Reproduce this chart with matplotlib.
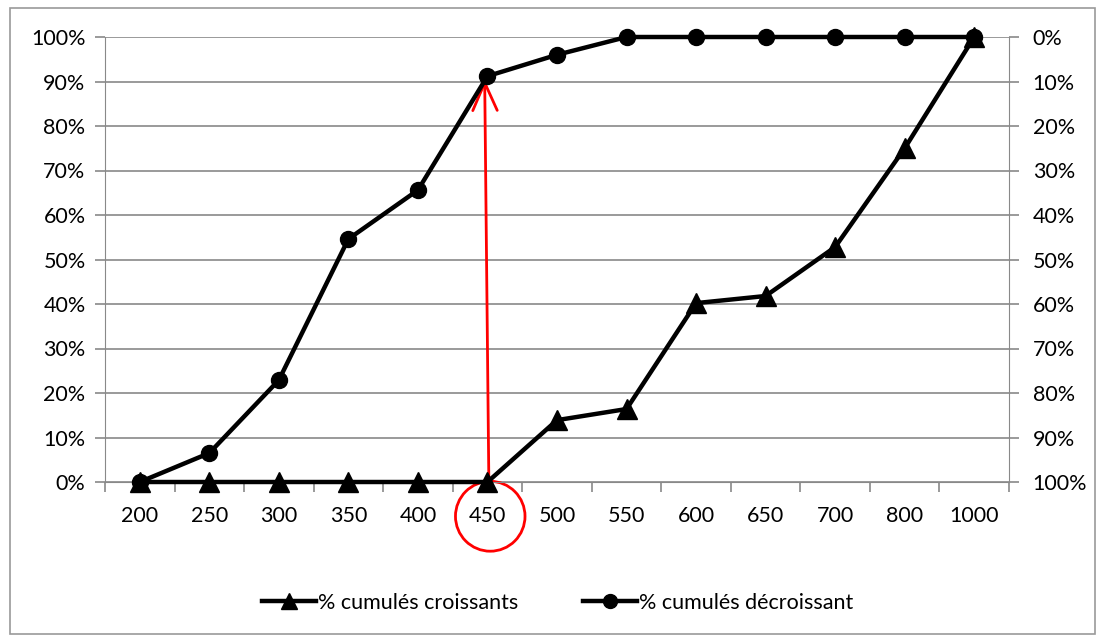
import matplotlib
matplotlib.use("Agg")
import matplotlib.pyplot as plt
from matplotlib.patches import Ellipse, Rectangle
from matplotlib.lines import Line2D
from matplotlib.ticker import PercentFormatter, MultipleLocator

plt.rcParams['font.family'] = ['Lato', 'DejaVu Sans']

categories = ['200', '250', '300', '350', '400', '450', '500', '550', '600', '650', '700', '800', '1000']
croissants = [0, 0, 0, 0, 0, 0, 13.9, 16.4, 40.2, 41.8, 52.8, 75.0, 100]
decroissants = [100, 93.5, 77.1, 45.4, 34.4, 8.8, 4.0, 0, 0, 0, 0, 0, 0]

grid_c = '#898989'
fs = 15.5
fig = plt.figure(figsize=(10.97, 6.35), dpi=100)
fig.patches.append(Rectangle((10/1097, 1/635), 1085/1097, 626/635, transform=fig.transFigure,
                             fill=False, edgecolor='#9a9a9a', linewidth=1.2))
ax = fig.add_axes([105/1097, 153/635, 904/1097, 445/635])
ax2 = ax.twinx()

x = list(range(len(categories)))
ax.set_xlim(-0.5, len(categories) - 0.5)
ax.set_ylim(0, 100)
ax2.set_ylim(100, 0)

ax.yaxis.set_major_locator(MultipleLocator(10))
ax2.yaxis.set_major_locator(MultipleLocator(10))
ax.yaxis.set_major_formatter(PercentFormatter(decimals=0))
ax2.yaxis.set_major_formatter(PercentFormatter(decimals=0))
ax.grid(axis='y', color=grid_c, linewidth=1.2)
ax.set_axisbelow(True)

for a in (ax, ax2):
    for s in a.spines.values():
        s.set_visible(False)
ax.spines['left'].set_visible(True)
ax.spines['left'].set_color(grid_c)
ax.spines['bottom'].set_visible(True)
ax.spines['bottom'].set_color(grid_c)
ax2.spines['right'].set_visible(True)
ax2.spines['right'].set_color(grid_c)

ax.set_xticks(x)
ax.set_xticklabels(categories)
ax.set_xticks([i + 0.5 for i in x[:-1]] + [-0.5, len(categories) - 0.5], minor=True)
ax.tick_params(axis='x', which='major', length=0, pad=17, labelsize=fs)
ax.tick_params(axis='x', which='minor', length=7, color=grid_c, width=1.2)
ax.tick_params(axis='y', length=7, color=grid_c, width=1.2, labelsize=fs, pad=7)
ax2.tick_params(axis='y', length=7, color=grid_c, width=1.2, labelsize=fs, pad=10)

ax.annotate('', xy=(4.96, 90.5), xytext=(5.02, 0),
            arrowprops=dict(arrowstyle='->, head_length=0.5, head_width=0.22', color='red',
                            lw=2, mutation_scale=40, shrinkA=0, shrinkB=0),
            zorder=2)
ax.plot(x, croissants, color='black', linewidth=3.2, marker='^', markersize=15,
        label='% cumulés croissants', zorder=3, clip_on=False)
ax2.plot(x, decroissants, color='black', linewidth=3.2, marker='o', markersize=11.5,
         label='% cumulés décroissant', zorder=3, clip_on=False)

ax.add_patch(Ellipse((5.04, -0.077), 1.0, 0.157, transform=ax.get_xaxis_transform(),
                     fill=False, edgecolor='red', linewidth=2, clip_on=False))

handles = [Line2D([], [], color='black', linewidth=3.2, marker='^', markersize=11),
           Line2D([], [], color='black', linewidth=3.2, marker='o', markersize=10)]
fig.legend(handles, ['% cumulés croissants', '% cumulés décroissant'], loc='center',
           bbox_to_anchor=(558/1097, 1 - 603/635), ncol=2, frameon=False, fontsize=fs,
           handlelength=2.5, handletextpad=0.1, columnspacing=3.0)

fig.savefig('out.png', dpi=100)
